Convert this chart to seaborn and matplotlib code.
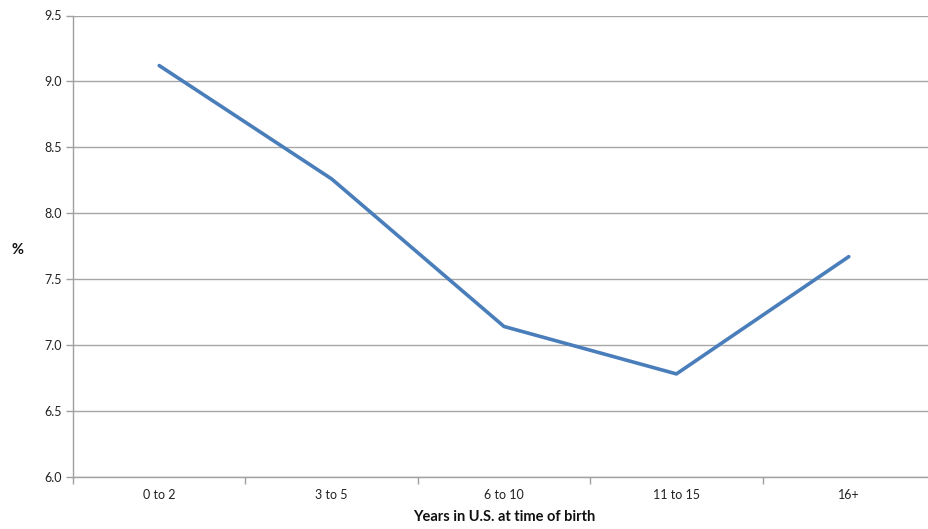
import matplotlib
matplotlib.use("Agg")
import matplotlib.pyplot as plt
import seaborn as sns
import pandas as pd
import numpy as np

categories = ["0 to 2", "3 to 5", "6 to 10", "11 to 15", "16+"]
values = [9.12, 8.26, 7.14, 6.78, 7.67]
yticks = [6.0, 6.5, 7.0, 7.5, 8.0, 8.5, 9.0, 9.5]

sns.set_theme(style="white")
plt.rcParams['font.family'] = ['Lato', 'DejaVu Sans']

df = pd.DataFrame({"cat": categories, "val": values})
df["pos"] = np.arange(len(categories))

fig = plt.figure(figsize=(9.29, 5.29), dpi=100)
ax = fig.add_axes([73/929, 1-476.7/529, (935-73)/929, (476.7-15.5)/529])

sns.lineplot(data=df, x="pos", y="val", ax=ax, color="#4A7EBB", linewidth=2.6, sort=False)

ax.set_ylim(6.0, 9.5)
ax.set_xlim(-0.5, len(categories) - 0.5)
ax.set_yticks(yticks)
ax.set_yticklabels([f"{t:.1f}" for t in yticks], fontsize=9, color="#222222")
ax.set_xticks(df["pos"])
ax.set_xticklabels(categories, fontsize=9, color="#222222")
ax.set_xticks(np.arange(-0.5, len(categories)), minor=True)
ax.tick_params(axis="x", which="major", length=0, pad=9)
ax.tick_params(axis="x", which="minor", length=5, width=1, color="#A0A0A0", direction="out", bottom=True)
ax.tick_params(axis="y", which="major", length=5, width=1, color="#A0A0A0", direction="out", pad=3, left=True)

ax.grid(axis="y", color="#A6A6A6", linewidth=1)
ax.grid(axis="x", visible=False)
ax.set_axisbelow(True)
for s in ["top", "right"]:
    ax.spines[s].set_visible(False)
for s in ["left", "bottom"]:
    ax.spines[s].set_color("#A0A0A0")
    ax.spines[s].set_linewidth(1)

ax.set_xlabel("Years in U.S. at time of birth", fontsize=10.5, fontweight="bold", labelpad=6, color="#111111")
ax.set_ylabel("")
fig.text(18/929, 1-250/529, "%", fontsize=10.5, fontweight="bold", ha="center", va="center", color="#111111")

fig.savefig("out.png", dpi=100)
